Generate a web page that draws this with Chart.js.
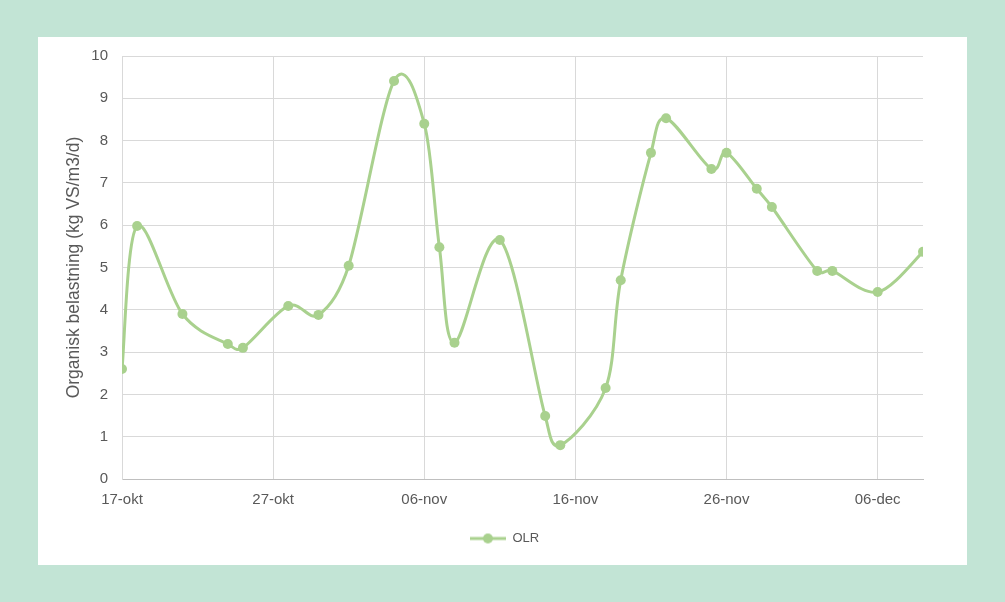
<!DOCTYPE html>
<html>
<head>
<meta charset="utf-8">
<script src="https://cdn.jsdelivr.net/npm/chart.js@4/dist/chart.umd.min.js"></script>
<style>
  html, body { margin: 0; padding: 0; }
  body { width: 1005px; height: 602px; background: #c2e4d5; position: relative; overflow: hidden; }
  #panel { position: absolute; left: 38px; top: 37px; width: 929px; height: 528px; background: #ffffff; }
  #panel canvas { display: block; }
</style>
</head>
<body>
<div id="panel"><canvas id="chart" width="929" height="528"></canvas></div>
<script>
// Days after 17-okt for each measurement
const days = [0, 1, 4, 7, 8, 11, 13, 15, 18, 20, 21, 22, 25, 28, 29, 32, 33, 35, 36, 39, 40, 42, 43, 46, 47, 50, 53];
// Organic loading rate (kg VS/m3/d)
const olr = [2.6, 5.98, 3.9, 3.19, 3.1, 4.09, 3.88, 5.04, 9.41, 8.4, 5.48, 3.22, 5.65, 1.49, 0.8, 2.15, 4.7, 7.71, 8.53, 7.33, 7.71, 6.86, 6.43, 4.92, 4.92, 4.42, 5.37];
// Date labels for every 10th day
const tickDays = [0, 10, 20, 30, 40, 50];
const tickLabels = ['17-okt', '27-okt', '06-nov', '16-nov', '26-nov', '06-dec'];
const yTicks = [0, 1, 2, 3, 4, 5, 6, 7, 8, 9, 10];

const green = '#a9d18e';
const textGrey = '#595959';
const gridGrey = '#d9d9d9';
const FONT = "'Liberation Sans', Arial, sans-serif";

// Legend marker: short line with a dot in the middle
const legendIcon = document.createElement('canvas');
legendIcon.width = 36; legendIcon.height = 12;
(function () {
  const c = legendIcon.getContext('2d');
  c.strokeStyle = green; c.lineWidth = 3;
  c.beginPath(); c.moveTo(0, 6); c.lineTo(36, 6); c.stroke();
  c.fillStyle = green;
  c.beginPath(); c.arc(18, 6, 5, 0, Math.PI * 2); c.fill();
})();

// Smoothed line: Catmull-Rom style bezier handles (1/6 of the neighbour chord),
// shortened when a handle would exceed half of its segment.
const smoothLine = {
  id: 'smoothLine',
  beforeDatasetDraw(chart, args) {
    const meta = args.meta;
    const line = meta.dataset;
    if (!line) return;
    line.updateControlPoints(chart.chartArea, 'x');
    const pts = meta.data;
    const n = pts.length;
    const dist = (a, b) => Math.hypot(b.x - a.x, b.y - a.y);
    for (let i = 0; i < n - 1; i++) {
      const p0 = pts[Math.max(i - 1, 0)];
      const p1 = pts[i];
      const p2 = pts[i + 1];
      const p3 = pts[Math.min(i + 2, n - 1)];
      const d02 = dist(p0, p2), d12 = dist(p1, p2), d13 = dist(p1, p3);
      const f = (d02 / 6 < d12 / 2) ? 1 / 6 : d12 / (2 * d02);
      const g = (d13 / 6 < d12 / 2) ? 1 / 6 : d12 / (2 * d13);
      p1.cp2x = p1.x + f * (p2.x - p0.x);
      p1.cp2y = p1.y + f * (p2.y - p0.y);
      p2.cp1x = p2.x - g * (p3.x - p1.x);
      p2.cp1y = p2.y - g * (p3.y - p1.y);
    }
    line._path = undefined;
  }
};

// Centre the legend on the whole panel rather than between the layout paddings
const legendCentre = {
  id: 'legendCentre',
  afterLayout(chart) {
    const lg = chart.legend;
    if (!lg) return;
    lg.left = 4;
    lg.right = chart.width;
  }
};

new Chart(document.getElementById('chart'), {
  type: 'line',
  plugins: [smoothLine, legendCentre],
  data: {
    datasets: [{
      label: 'OLR',
      data: days.map((d, i) => ({ x: d, y: olr[i] })),
      borderColor: green,
      backgroundColor: green,
      borderWidth: 3,
      pointRadius: 5,
      pointHoverRadius: 5,
      pointBorderWidth: 0,
      pointStyle: 'circle',
      tension: 0.4,
      fill: false
    }]
  },
  options: {
    responsive: false,
    animation: false,
    layout: { padding: { left: 26, right: 44, top: 19, bottom: 10 } },
    plugins: {
      tooltip: { enabled: false },
      legend: {
        position: 'bottom',
        labels: {
          usePointStyle: true,
          pointStyleWidth: 36,
          color: textGrey,
          font: { family: FONT, size: 13 },
          padding: 9,
          generateLabels: () => [{
            text: 'OLR',
            pointStyle: legendIcon,
            fillStyle: green,
            strokeStyle: green,
            lineWidth: 0,
            datasetIndex: 0,
            fontColor: textGrey
          }]
        }
      }
    },
    scales: {
      x: {
        type: 'linear',
        min: 0,
        max: 53,
        afterBuildTicks: (axis) => { axis.ticks = tickDays.map(v => ({ value: v })); },
        afterFit: (axis) => { axis.height = 44; axis.paddingLeft = 0; axis.paddingRight = 0; },
        ticks: {
          color: textGrey,
          font: { family: FONT, size: 15 },
          padding: 12,
          maxRotation: 0,
          autoSkip: false,
          callback: (v) => tickLabels[tickDays.indexOf(v)] ?? ''
        },
        grid: { color: gridGrey, lineWidth: 1, drawTicks: false },
        border: { color: '#bfbfbf', width: 1 }
      },
      y: {
        min: 0,
        max: 10,
        afterBuildTicks: (axis) => { axis.ticks = yTicks.map(v => ({ value: v })); },
        afterFit: (axis) => { axis.width = 58; axis.paddingTop = 0; axis.paddingBottom = 0; },
        ticks: {
          color: textGrey,
          font: { family: FONT, size: 15 },
          padding: 14
        },
        grid: { color: gridGrey, lineWidth: 1, drawTicks: false },
        border: { color: gridGrey, width: 1 },
        title: {
          display: true,
          text: 'Organisk belastning (kg VS/m3/d)',
          color: textGrey,
          font: { family: FONT, size: 17.5 },
          padding: 0
        }
      }
    }
  }
});
</script>
</body>
</html>
